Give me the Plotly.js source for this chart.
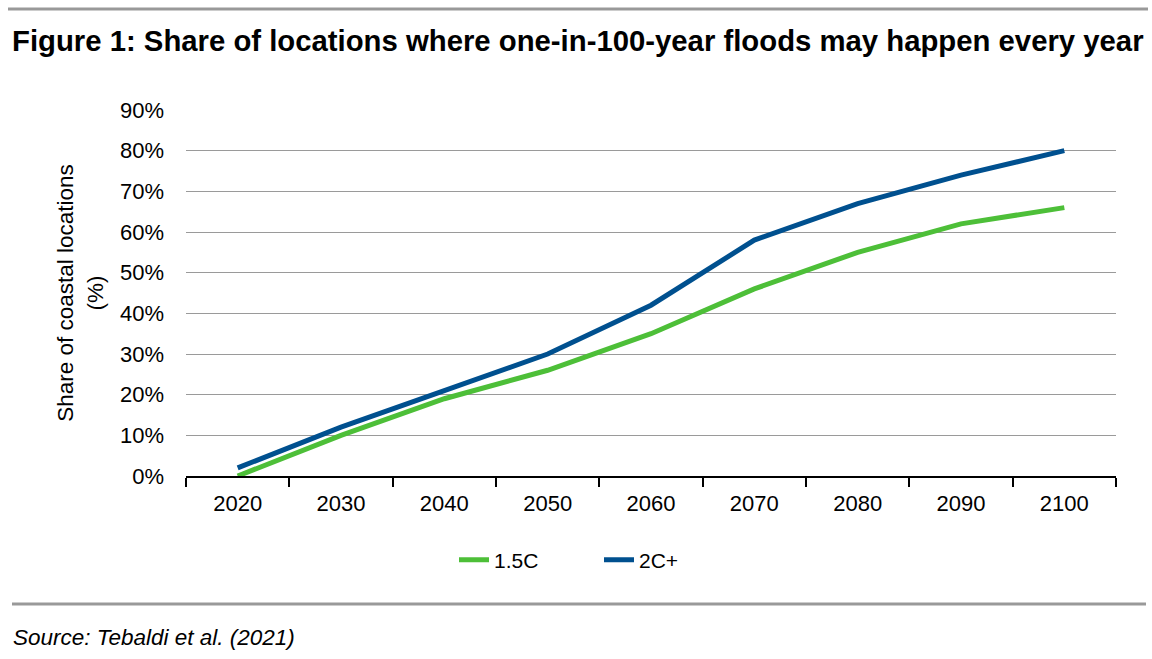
<!DOCTYPE html>
<html><head><meta charset="utf-8">
<script src="https://cdn.plot.ly/plotly-3.0.1.min.js"></script>
<style>body{margin:0;background:#fff}#chart{width:1152px;height:659px}</style>
</head><body><div id="chart"></div>
<script>
const years = ['2020','2030','2040','2050','2060','2070','2080','2090','2100'];
const s15 = [0, 10, 19, 26, 35, 46, 55, 62, 66];
const s2 = [2, 12, 21, 30, 42, 58, 67, 74, 80];
const seriesNames = ['1.5C', '2C+'];
const yTicks = [0,10,20,30,40,50,60,70,80,90];
const yTickText = yTicks.map(v => v + '%');

const W = 1152, H = 659;
const ml = 186, mr = 36, mt = 110, mb = 183;
const pw = W - ml - mr, ph = H - mt - mb;
const px = x => (x - ml) / pw;
const py = y => (H - mb - y) / ph;

const traces = [
  {x: years, y: s15, name: seriesNames[0], type: 'scatter', mode: 'lines',
   line: {color: '#4dbf38', width: 5}},
  {x: years, y: s2, name: seriesNames[1], type: 'scatter', mode: 'lines',
   line: {color: '#00508f', width: 5}}
];

const layout = {
  width: W, height: H,
  margin: {l: ml, r: mr, t: mt, b: mb},
  paper_bgcolor: '#fff', plot_bgcolor: '#fff',
  font: {family: 'Liberation Sans, Arial, sans-serif', color: '#000', size: 22},
  showlegend: true,
  legend: {orientation: 'h', x: px(454), xanchor: 'left', y: py(560), yanchor: 'middle',
           font: {size: 21}, entrywidth: 100, entrywidthmode: 'pixels', tracegroupgap: 0},
  xaxis: {type: 'category', range: [-0.5, 8.5], tickson: 'boundaries', ticks: 'outside',
          ticklen: 9, tickwidth: 2, tickcolor: '#000', showline: true, linecolor: '#000',
          linewidth: 2, showgrid: false, zeroline: false, tickfont: {size: 22},
          ticklabelstandoff: 7, fixedrange: true},
  yaxis: {range: [0, 90], tickvals: yTicks, ticktext: yTickText, showgrid: true,
          gridcolor: '#9a9a9a', gridwidth: 1, zeroline: false, showline: false,
          ticks: '', ticklen: 0, tickfont: {size: 22}, automargin: false,
          ticklabelstandoff: 21,
          title: {text: 'Share of coastal locations<br>(%)', font: {size: 22.5}, standoff: 10}},
  shapes: [
    {type: 'line', xref: 'paper', yref: 'paper', x0: px(8), x1: px(1148), y0: py(9), y1: py(9),
     line: {color: '#999', width: 3}},
    {type: 'line', xref: 'paper', yref: 'paper', x0: px(12), x1: px(1146), y0: py(604), y1: py(604),
     line: {color: '#999', width: 3}}
  ],
  annotations: [
    {xref: 'paper', yref: 'paper', x: px(10), y: py(41), xanchor: 'left', yanchor: 'middle',
     text: '<b>Figure 1: Share of locations where one-in-100-year floods may happen every year</b>',
     showarrow: false, font: {size: 29.3, color: '#000'}},
    {xref: 'paper', yref: 'paper', x: px(11), y: py(637), xanchor: 'left', yanchor: 'middle',
     text: '<i>Source: Tebaldi et al. (2021)</i>', showarrow: false, font: {size: 22.5, color: '#000'}}
  ]
};
Plotly.newPlot('chart', traces, layout, {displayModeBar: false, staticPlot: true});
</script></body></html>
